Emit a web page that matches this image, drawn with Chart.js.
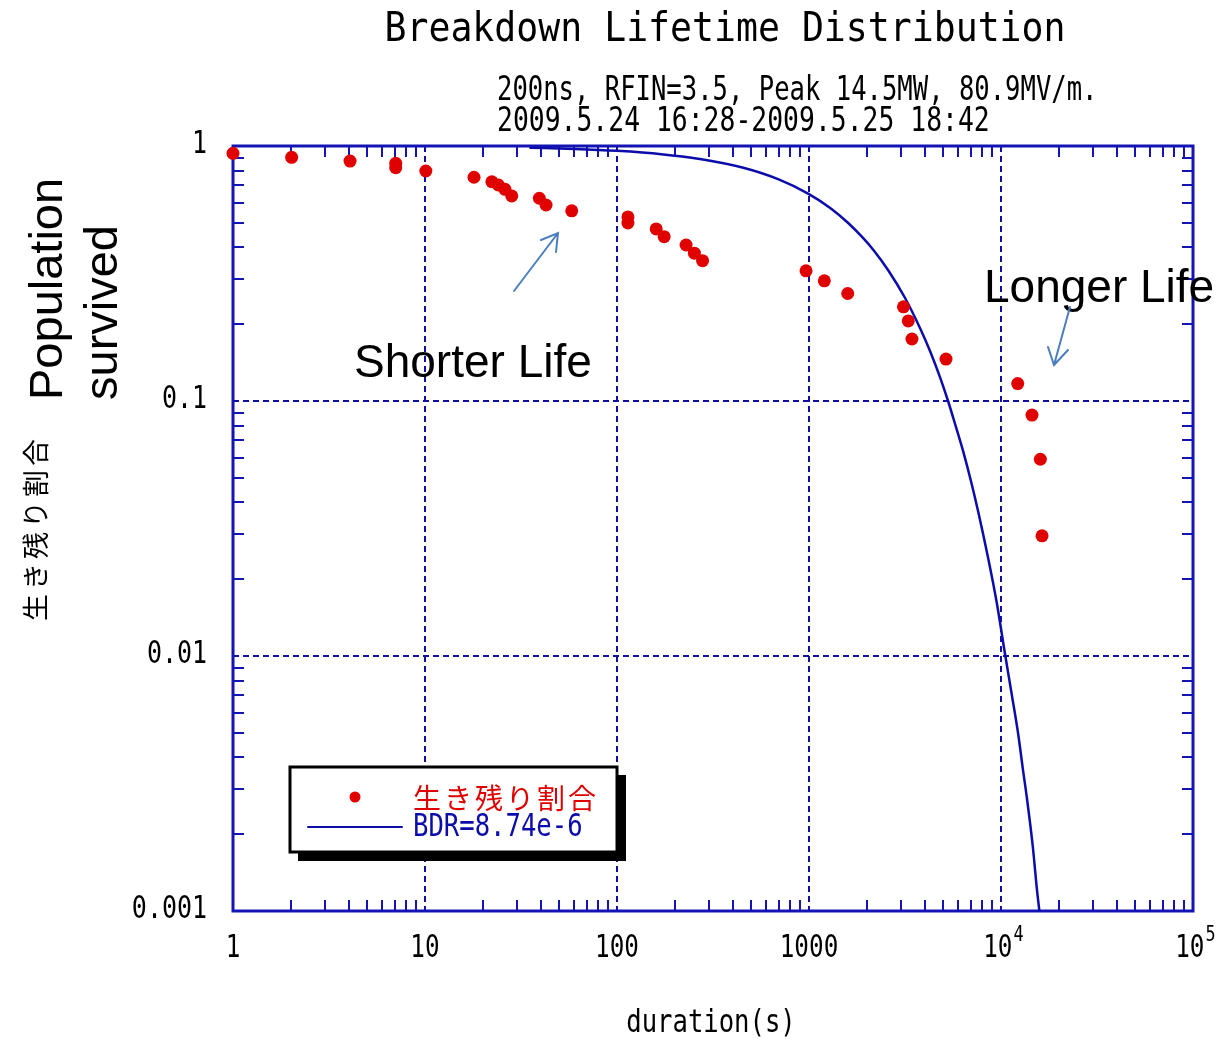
<!DOCTYPE html>
<html><head><meta charset="utf-8">
<script src="https://cdn.jsdelivr.net/npm/chart.js@4/dist/chart.umd.min.js"></script>
<style>html,body{margin:0;padding:0;background:#fff;}#wrap{width:1224px;height:1040px;}</style>
</head><body><div id="wrap"><canvas id="c" width="1224" height="1040"></canvas></div>
<script>
// ---- data ----
const durations = [1.0, 2.02, 4.07, 7.04, 7.04, 10.1, 18.0, 22.3, 24.1, 26.1, 28.3, 39.4, 42.7, 58.1, 114, 114, 160, 176, 229, 253, 279, 965, 1202, 1591, 3105, 3289, 3437, 5171, 12220, 14500, 16030, 16360];
const survived  = [0.936, 0.903, 0.873, 0.855, 0.822, 0.798, 0.754, 0.724, 0.703, 0.676, 0.637, 0.624, 0.587, 0.557, 0.527, 0.499, 0.473, 0.441, 0.409, 0.380, 0.355, 0.324, 0.296, 0.264, 0.234, 0.206, 0.175, 0.146, 0.117, 0.0881, 0.0591, 0.0296];
const fitDurations = [35, 60, 100, 170, 270, 450, 700, 1000, 1300, 1600, 1900, 2160, 2590, 3160, 3800, 4300, 4810, 5300, 5800, 6370, 7000, 7620, 8590, 9500, 10490, 11400, 12310, 13000, 13620, 14630, 15450, 15900];
const fitSurvived  = [0.985, 0.974, 0.957, 0.929, 0.889, 0.823, 0.738, 0.648, 0.569, 0.499, 0.438, 0.392, 0.325, 0.254, 0.192, 0.155, 0.124, 0.100, 0.080, 0.063, 0.048, 0.0366, 0.0240, 0.0162, 0.0102, 0.0070, 0.0049, 0.0036, 0.0028, 0.0018, 0.00118, 0.00098];
const xTickValues = [1, 10, 100, 1000, 10000, 100000];
const xTickLabels = ['1', '10', '100', '1000', '10^4', '10^5'];
const yTickValues = [1, 0.1, 0.01, 0.001];
const yTickLabels = ['1', '0.1', '0.01', '0.001'];
const titleText = 'Breakdown Lifetime Distribution';
const subtitleLines = ['200ns, RFIN=3.5, Peak 14.5MW, 80.9MV/m.', '2009.5.24 16:28-2009.5.25 18:42'];
const xAxisTitle = 'duration(s)';
const yAxisTitle = '生き残り割合';
const seriesNames = ['生き残り割合', 'BDR=8.74e-6'];
const annotationY = ['Population', 'survived'];
const noteShort = 'Shorter Life';
const noteLong = 'Longer Life';

// ---- styles ----
const RED = '#e00000';
const LINEBLUE = '#0c0cab';
const AXISBLUE = '#1414b4';
const GRIDBLUE = '#10109c';
const ARROW = '#4a7ebf';
const MONO = '"DejaVu Sans Mono", "Liberation Mono", monospace';
const CJK = '"Noto Sans CJK JP", "Noto Sans CJK SC", sans-serif';
const SANS = '"Liberation Sans", Arial, sans-serif';

function monoText(ctx, text, x, y, size, align, sx, color) {
  ctx.save();
  ctx.translate(x, y);
  ctx.scale(sx, 1);
  ctx.font = size + 'px ' + MONO;
  ctx.textAlign = align;
  ctx.textBaseline = 'middle';
  ctx.fillStyle = color || '#000';
  ctx.fillText(text, 0, 0);
  ctx.restore();
}

const framePlugin = {
  id: 'frame',
  beforeDatasetsDraw(chart) {
    const ctx = chart.ctx, xs = chart.scales.x, ys = chart.scales.y;
    const a = chart.chartArea;
    ctx.save();
    ctx.strokeStyle = GRIDBLUE; ctx.lineWidth = 2; ctx.setLineDash([6, 4]);
    xTickValues.slice(1, -1).forEach(v => {
      const px = Math.round(xs.getPixelForValue(v));
      ctx.beginPath(); ctx.moveTo(px, a.top); ctx.lineTo(px, a.bottom); ctx.stroke();
    });
    yTickValues.slice(1, -1).forEach(v => {
      const py = Math.round(ys.getPixelForValue(v));
      ctx.beginPath(); ctx.moveTo(a.left, py); ctx.lineTo(a.right, py); ctx.stroke();
    });
    ctx.setLineDash([]);
    ctx.strokeStyle = AXISBLUE; ctx.lineWidth = 2;
    const L = 11;
    for (let i = 0; i < xTickValues.length - 1; i++) {
      for (let k = 2; k <= 9; k++) {
        const px = Math.round(xs.getPixelForValue(xTickValues[i] * k));
        ctx.beginPath();
        ctx.moveTo(px, a.bottom); ctx.lineTo(px, a.bottom - L);
        ctx.moveTo(px, a.top); ctx.lineTo(px, a.top + L);
        ctx.stroke();
      }
    }
    for (let i = 0; i < yTickValues.length - 1; i++) {
      for (let k = 2; k <= 9; k++) {
        const py = Math.round(ys.getPixelForValue(yTickValues[i + 1] * k));
        ctx.beginPath();
        ctx.moveTo(a.left, py); ctx.lineTo(a.left + L, py);
        ctx.moveTo(a.right, py); ctx.lineTo(a.right - L, py);
        ctx.stroke();
      }
    }
    ctx.lineWidth = 3;
    ctx.strokeRect(a.left, a.top, a.right - a.left, a.bottom - a.top);
    ctx.restore();
  },
  afterDraw(chart) {
    const ctx = chart.ctx, xs = chart.scales.x, ys = chart.scales.y;
    ctx.save();
    monoText(ctx, titleText, 725, 30, 41, 'center', 0.89);
    monoText(ctx, subtitleLines[0], 497, 91, 33, 'left', 0.775);
    monoText(ctx, subtitleLines[1], 497, 122, 33, 'left', 0.8);
    yTickValues.forEach((v, i) => {
      monoText(ctx, yTickLabels[i], 207, ys.getPixelForValue(v) - 1, 32, 'right', 0.78);
    });
    xTickValues.forEach((v, i) => {
      const px = xs.getPixelForValue(v);
      const parts = xTickLabels[i].split('^');
      if (parts.length === 1) {
        monoText(ctx, parts[0], px, 949, 32, 'center', 0.76);
      } else {
        const wb = 2 * 19.27 * 0.76, ws = 13 * 0.8;
        const start = px - (wb + ws) / 2 + 2;
        monoText(ctx, parts[0], start, 949, 32, 'left', 0.76);
        monoText(ctx, parts[1], start + wb + 1, 936, 21, 'left', 0.8);
      }
    });
    monoText(ctx, xAxisTitle, 711, 1024, 32, 'center', 0.8);
    ctx.save();
    ctx.translate(36, 528); ctx.rotate(-Math.PI / 2);
    ctx.font = '27px ' + CJK; ctx.textAlign = 'center'; ctx.textBaseline = 'middle';
    ctx.fillStyle = '#000';
    try { ctx.letterSpacing = '4px'; } catch (e) {}
    ctx.fillText(yAxisTitle, 0, 0);
    ctx.restore();
    ctx.fillStyle = '#000';
    ctx.font = '47px ' + SANS; ctx.textBaseline = 'alphabetic'; ctx.textAlign = 'left';
    ctx.save(); ctx.translate(62, 400); ctx.rotate(-Math.PI / 2); ctx.fillText(annotationY[0], 0, 0); ctx.restore();
    ctx.save(); ctx.translate(117, 400); ctx.rotate(-Math.PI / 2); ctx.fillText(annotationY[1], 0, 0); ctx.restore();
    ctx.font = '46px ' + SANS;
    ctx.fillText(noteShort, 354, 377);
    ctx.fillText(noteLong, 984, 302);
    ctx.strokeStyle = ARROW; ctx.lineWidth = 2; ctx.lineCap = 'round';
    ctx.beginPath();
    ctx.moveTo(514, 291); ctx.lineTo(558, 233);
    ctx.moveTo(541, 240); ctx.lineTo(558, 233); ctx.lineTo(556, 252);
    ctx.moveTo(1070, 307); ctx.lineTo(1054, 365);
    ctx.moveTo(1048, 347); ctx.lineTo(1054, 365); ctx.lineTo(1068, 350);
    ctx.stroke();
    ctx.fillStyle = '#000';
    ctx.fillRect(298, 775, 328, 86);
    ctx.fillStyle = '#fff';
    ctx.fillRect(290, 767, 327, 85);
    ctx.strokeStyle = '#000'; ctx.lineWidth = 3;
    ctx.strokeRect(290, 767, 327, 85);
    const ds0 = chart.data.datasets[0], ds1 = chart.data.datasets[1];
    ctx.fillStyle = ds0.backgroundColor;
    ctx.beginPath(); ctx.arc(355, 797, 5.5, 0, Math.PI * 2); ctx.fill();
    ctx.strokeStyle = ds1.borderColor; ctx.lineWidth = 2;
    ctx.beginPath(); ctx.moveTo(308, 827); ctx.lineTo(402, 827); ctx.stroke();
    ctx.save();
    ctx.font = '28px ' + CJK; ctx.textAlign = 'left'; ctx.textBaseline = 'middle';
    ctx.fillStyle = RED;
    try { ctx.letterSpacing = '3px'; } catch (e) {}
    ctx.fillText(seriesNames[0], 413, 798);
    ctx.restore();
    monoText(ctx, seriesNames[1], 413, 828, 32, 'left', 0.8, LINEBLUE);
    ctx.restore();
  }
};

new Chart(document.getElementById('c'), {
  type: 'scatter',
  data: {
    datasets: [
      {
        label: seriesNames[0],
        data: durations.map((d, i) => ({ x: d, y: survived[i] })),
        backgroundColor: RED, borderColor: RED,
        pointRadius: 6.5, pointBorderWidth: 0, showLine: false, clip: false, order: 1
      },
      {
        label: seriesNames[1],
        data: fitDurations.map((d, i) => ({ x: d, y: fitSurvived[i] })),
        borderColor: LINEBLUE, backgroundColor: LINEBLUE,
        borderWidth: 2.5, pointRadius: 0, showLine: true, cubicInterpolationMode: 'monotone', order: 2
      }
    ]
  },
  options: {
    responsive: false, animation: false, devicePixelRatio: 1,
    layout: { padding: { left: 233, right: 31, top: 146, bottom: 129 } },
    plugins: { legend: { display: false }, tooltip: { enabled: false }, title: { display: false } },
    scales: {
      x: { type: 'logarithmic', min: 1, max: 100000, display: false },
      y: { type: 'logarithmic', min: 0.001, max: 1, display: false }
    }
  },
  plugins: [framePlugin]
});
</script>
</body></html>
